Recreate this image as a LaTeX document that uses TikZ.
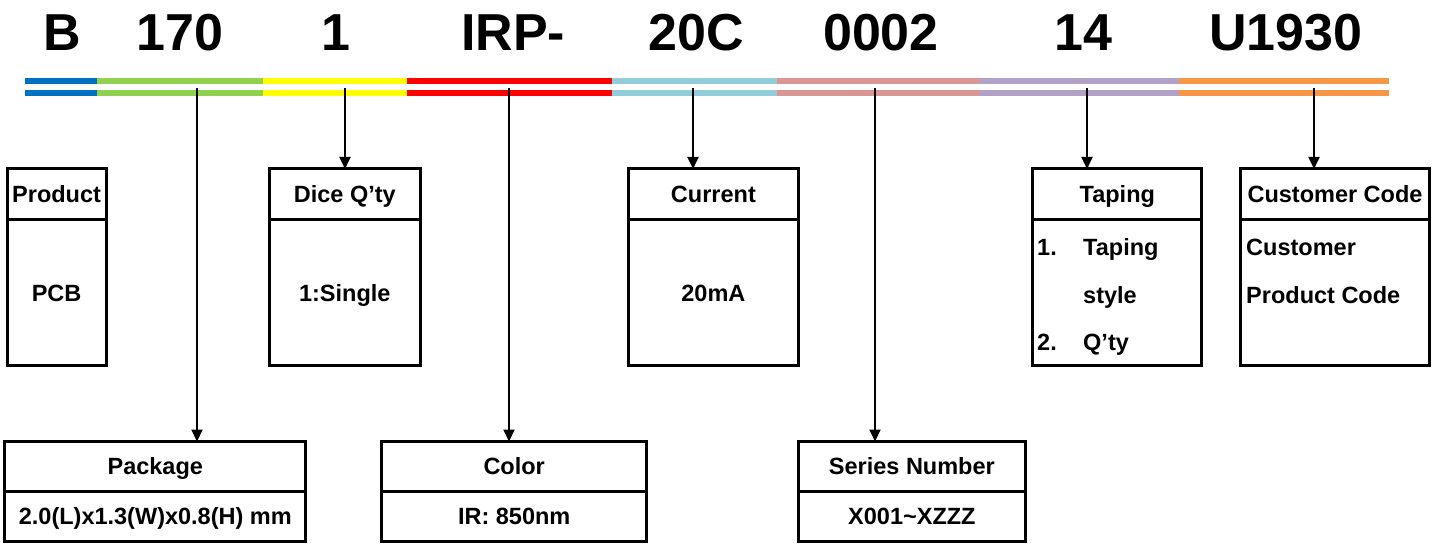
\documentclass[tikz,border=0pt]{standalone}
\usepackage{fontspec}
\setmainfont{Liberation Sans}
\usetikzlibrary{arrows.meta,positioning}

\definecolor{segblue}{HTML}{0070C0}
\definecolor{seggreen}{HTML}{92D050}
\definecolor{segyellow}{HTML}{FFFF00}
\definecolor{segred}{HTML}{FF0000}
\definecolor{segcyan}{HTML}{92CDDC}
\definecolor{segpink}{HTML}{D99694}
\definecolor{segviolet}{HTML}{B2A1C7}
\definecolor{segorange}{HTML}{F79646}

\tikzset{
  code/.style={anchor=base,inner sep=0pt,font=\fontsize{52}{60}\selectfont\bfseries},
  cell/.style={draw,line width=3pt,outer sep=0pt,inner sep=0pt,text height=20pt,text depth=3.2pt,
    font=\fontsize{23.5}{28}\selectfont\bfseries},
  item/.style={anchor=base west,inner sep=0pt,font=\fontsize{23.5}{28}\selectfont\bfseries},
  arr/.style={line width=2pt,-{Triangle[length=12pt,width=11pt]}},
}

\begin{document}
\begin{tikzpicture}[x=1pt,y=-1pt]
    \useasboundingbox (0,0) rectangle (1439,544);

    % part number
    \node[code] (cB) at (62,50) {B};
    \node[code] (cPkg) at (180,50) {170};
    \node[code] (cDice) at (336,50) {1};
    \node[code] (cCol) at (513,50) {IRP-};
    \node[code] (cCur) at (696,50) {20C};
    \node[code] (cSer) at (881,50) {0002};
    \node[code] (cTap) at (1083,50) {14};
    \node[code] (cCust) at (1286,50) {U1930};

    % colour bars
    \foreach \xa/\xb/\col in {25/97/segblue, 97/263/seggreen, 263/407/segyellow,
      407/612/segred, 612/777/segcyan, 777/980/segpink, 980/1179/segviolet,
      1179/1389/segorange}{
      \draw[\col,line width=6pt] (\xa,81) -- (\xb,81);
      \draw[\col,line width=6pt] (\xa,93) -- (\xb,93);
    }

    % upper row
    \node[cell,minimum width=98.8pt,minimum height=50.7pt] (prodH) at (56.6,194.3) {Product};
    \node[cell,minimum width=98.8pt,minimum height=146.3pt,below=0pt of prodH] (prodB) {PCB};
    \node[cell,minimum width=150.5pt,minimum height=50.7pt] (diceH) at (344.8,194.3) {Dice Q’ty};
    \node[cell,minimum width=150.5pt,minimum height=146.3pt,below=0pt of diceH] (diceB) {1:Single};
    \node[cell,minimum width=169.2pt,minimum height=50.7pt] (curH) at (713.4,194.3) {Current};
    \node[cell,minimum width=169.2pt,minimum height=146.3pt,below=0pt of curH] (curB) {20mA};
    \node[cell,minimum width=168.7pt,minimum height=50.7pt] (tapH) at (1117.3,194.3) {Taping};
    \node[cell,minimum width=168.7pt,minimum height=146.3pt,below=0pt of tapH] (tapB) {};
    \node[cell,minimum width=188.5pt,minimum height=50.7pt] (custH) at (1335,194.3) {Customer Code};
    \node[cell,minimum width=188.5pt,minimum height=146.3pt,below=0pt of custH] (custB) {};

    \node[item] (tap1n) at (1037,255) {1.};
    \node[item] (tap1) at (1083,255) {Taping};
    \node[item] (tap1b) at (1083,303) {style};
    \node[item] (tap2n) at (1037,350) {2.};
    \node[item] (tap2) at (1083,350) {Q’ty};
    \node[item] (cust1) at (1246,255) {Customer};
    \node[item] (cust2) at (1246,303) {Product Code};

    % lower row
    \node[cell,minimum width=301.1pt,minimum height=49.8pt] (pkgH) at (155.3,466.4) {Package};
    \node[cell,minimum width=301.1pt,minimum height=50pt,below=0pt of pkgH] (pkgB) {2.0(L)x1.3(W)x0.8(H) mm};
    \node[cell,minimum width=265pt,minimum height=49.8pt] (colH) at (514.2,466.4) {Color};
    \node[cell,minimum width=265pt,minimum height=50pt,below=0pt of colH] (colB) {IR: 850nm};
    \node[cell,minimum width=227.7pt,minimum height=49.8pt] (serH) at (911.9,466.4) {Series Number};
    \node[cell,minimum width=227.7pt,minimum height=50pt,below=0pt of serH] (serB) {X001\char`\~XZZZ};

    % arrows from the bars
    \coordinate (aPkg) at (197,88);
    \coordinate (aDice) at (345,88);
    \coordinate (aCol) at (509,88);
    \coordinate (aCur) at (693,88);
    \coordinate (aSer) at (875,88);
    \coordinate (aTap) at (1087,88);
    \coordinate (aCust) at (1314,88);
    \draw[arr] (aPkg) -- (aPkg |- pkgH.north);
    \draw[arr] (aDice) -- (aDice |- diceH.north);
    \draw[arr] (aCol) -- (aCol |- colH.north);
    \draw[arr] (aCur) -- (aCur |- curH.north);
    \draw[arr] (aSer) -- (aSer |- serH.north);
    \draw[arr] (aTap) -- (aTap |- tapH.north);
    \draw[arr] (aCust) -- (aCust |- custH.north);
\end{tikzpicture}
\end{document}
